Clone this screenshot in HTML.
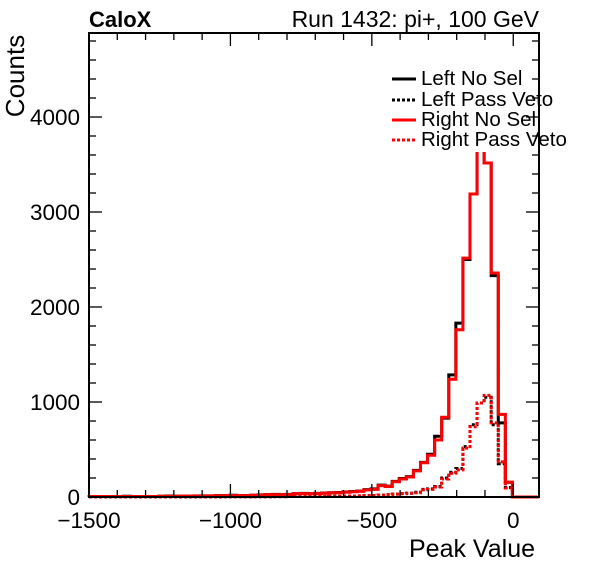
<!DOCTYPE html>
<html><head><meta charset="utf-8">
<style>
html,body{margin:0;padding:0;background:#fff;}
svg{display:block;font-family:"Liberation Sans",Arial,sans-serif;}
</style></head>
<body>
<svg id="chart" width="596" height="572" viewBox="0 0 596 572" xmlns="http://www.w3.org/2000/svg">
  <rect width="596" height="572" fill="#fff"/>
  <g id="hists"></g>
  <rect x="388" y="64" width="150" height="88" fill="#fff"/>
  <g id="axes"></g>
  <text x="89" y="27" font-size="22" font-weight="bold">CaloX</text>
  <text x="539" y="27" font-size="23" text-anchor="end">Run 1432: pi+, 100 GeV</text>
  <text transform="translate(24,76) rotate(-90)" font-size="26" text-anchor="middle">Counts</text>
  <text x="535" y="557" font-size="25" text-anchor="end">Peak Value</text>
  <g>
    <line x1="392" y1="79" x2="416" y2="79" stroke="#000" stroke-width="3"/>
    <text x="421" y="85" font-size="20.5">Left No Sel</text>
    <line x1="392" y1="100" x2="416" y2="100" stroke="#000" stroke-width="3" stroke-dasharray="3,2"/>
    <text x="421" y="106" font-size="20.5">Left Pass Veto</text>
    <line x1="392" y1="120" x2="416" y2="120" stroke="#f00" stroke-width="3"/>
    <text x="421" y="126" font-size="20.5">Right No Sel</text>
    <line x1="392" y1="140" x2="416" y2="140" stroke="#f00" stroke-width="3" stroke-dasharray="3,2"/>
    <text x="421" y="146" font-size="20.5">Right Pass Veto</text>
  </g>
</svg>
<script>
const binStart = -1528;
const binWidth = 25;
const rightNoSel = [5,5,5,5,5,5,5,5,5,5,5,8,8,8,10,10,10,12,12,15,15,15,15,15,18,20,25,25,25,25,35,35,35,35,40,45,45,50,55,60,75,80,120,110,160,190,210,275,360,440,600,840,1240,1760,2515,3190,4500,3516,2358,870,155,0,0,0,0];
const leftNoSel  = [5,5,5,5,5,5,8,5,5,5,5,8,10,8,10,10,12,12,12,15,15,18,15,15,18,22,25,28,25,28,35,38,35,38,42,45,48,52,58,62,78,85,125,115,165,195,215,280,365,450,640,830,1285,1830,2500,3190,4500,3516,2330,780,155,0,0,0,0];
const rightVeto  = [0,0,0,0,0,0,0,0,0,0,0,0,0,0,0,0,0,0,0,0,2,2,2,2,3,3,3,4,4,5,5,5,6,6,7,8,8,10,10,12,14,16,20,25,30,35,40,45,75,80,105,190,250,285,515,740,990,1070,780,370,95,0,0,0,0];
const leftVeto   = [0,0,0,0,0,0,0,0,0,0,0,0,0,0,0,0,0,0,0,0,2,2,2,2,3,3,3,4,4,5,5,5,6,6,7,8,8,10,10,12,14,16,20,25,30,35,40,50,80,85,110,200,260,300,530,760,990,1050,760,350,100,0,0,0,0];
const xTicks = [-1500,-1000,-500,0];
const yTicks = [0,1000,2000,3000,4000];

const X0=89, X1=539, Y0=497, Y1=33;
const xmin=-1500, xmax=91;
const ymax=(497-33)/0.095;
function xs(v){return X0+(v-xmin)*(X1-X0)/(xmax-xmin);}
function ys(v){return Y0-v*(Y0-Y1)/ymax;}
const NS="http://www.w3.org/2000/svg";
function mk(tag,attrs,parent){const e=document.createElementNS(NS,tag);for(const k in attrs)e.setAttribute(k,attrs[k]);parent.appendChild(e);return e;}

const hists=document.getElementById('hists');
function histPath(vals){
  let d="M"+xs(xmin)+","+ys(0);
  for(let i=0;i<vals.length;i++){
    let a=binStart+i*binWidth, b=a+binWidth;
    a=Math.max(a,xmin); b=Math.min(b,xmax);
    if(b<=a) continue;
    const y=Math.max(ys(vals[i]),Y1);
    d+=" L"+xs(a)+","+y+" L"+xs(b)+","+y;
  }
  d+=" L"+xs(xmax)+","+ys(0);
  return d;
}
const series=[[leftNoSel,'#000','', 'left-nosel-hist'],[leftVeto,'#000','3,2','left-veto-hist'],[rightNoSel,'#f00','','right-nosel-hist'],[rightVeto,'#f00','3,2','right-veto-hist']];
for(const s of series){
  const p=mk('path',{d:histPath(s[0]),fill:'none',stroke:s[1],'stroke-width':3,'stroke-dasharray':s[2]||'none'},hists);
  
  
}

const axes=document.getElementById('axes');
const fr=mk('rect',{x:X0,y:Y1,width:X1-X0,height:Y0-Y1,fill:'none',stroke:'#000','stroke-width':2},axes);


for(let v=-1500; v<=xmax; v+=100){
  const major = v%500===0;
  const L = major?13:7;
  mk('line',{x1:xs(v),x2:xs(v),y1:Y0,y2:Y0-L,stroke:'#000','stroke-width':1.3},axes);
  mk('line',{x1:xs(v),x2:xs(v),y1:Y1,y2:Y1+L,stroke:'#000','stroke-width':1.3},axes);
}
for(const v of xTicks){
  const t=mk('text',{x:xs(v),y:528,'font-size':22.5,'text-anchor':'middle'},axes);
  t.textContent=(v<0?'\u2212'+(-v):String(v));
  
  
}
for(let v=0; v<=ymax; v+=200){
  const major = v%1000===0;
  const L = major?13:7;
  mk('line',{x1:X0,x2:X0+L,y1:ys(v),y2:ys(v),stroke:'#000','stroke-width':1.3},axes);
  mk('line',{x1:X1,x2:X1-L,y1:ys(v),y2:ys(v),stroke:'#000','stroke-width':1.3},axes);
}
for(const v of yTicks){
  const t=mk('text',{x:80,y:ys(v)+8,'font-size':22.5,'text-anchor':'end'},axes);
  t.textContent=String(v);
  
  
}
</script>
</body></html>
